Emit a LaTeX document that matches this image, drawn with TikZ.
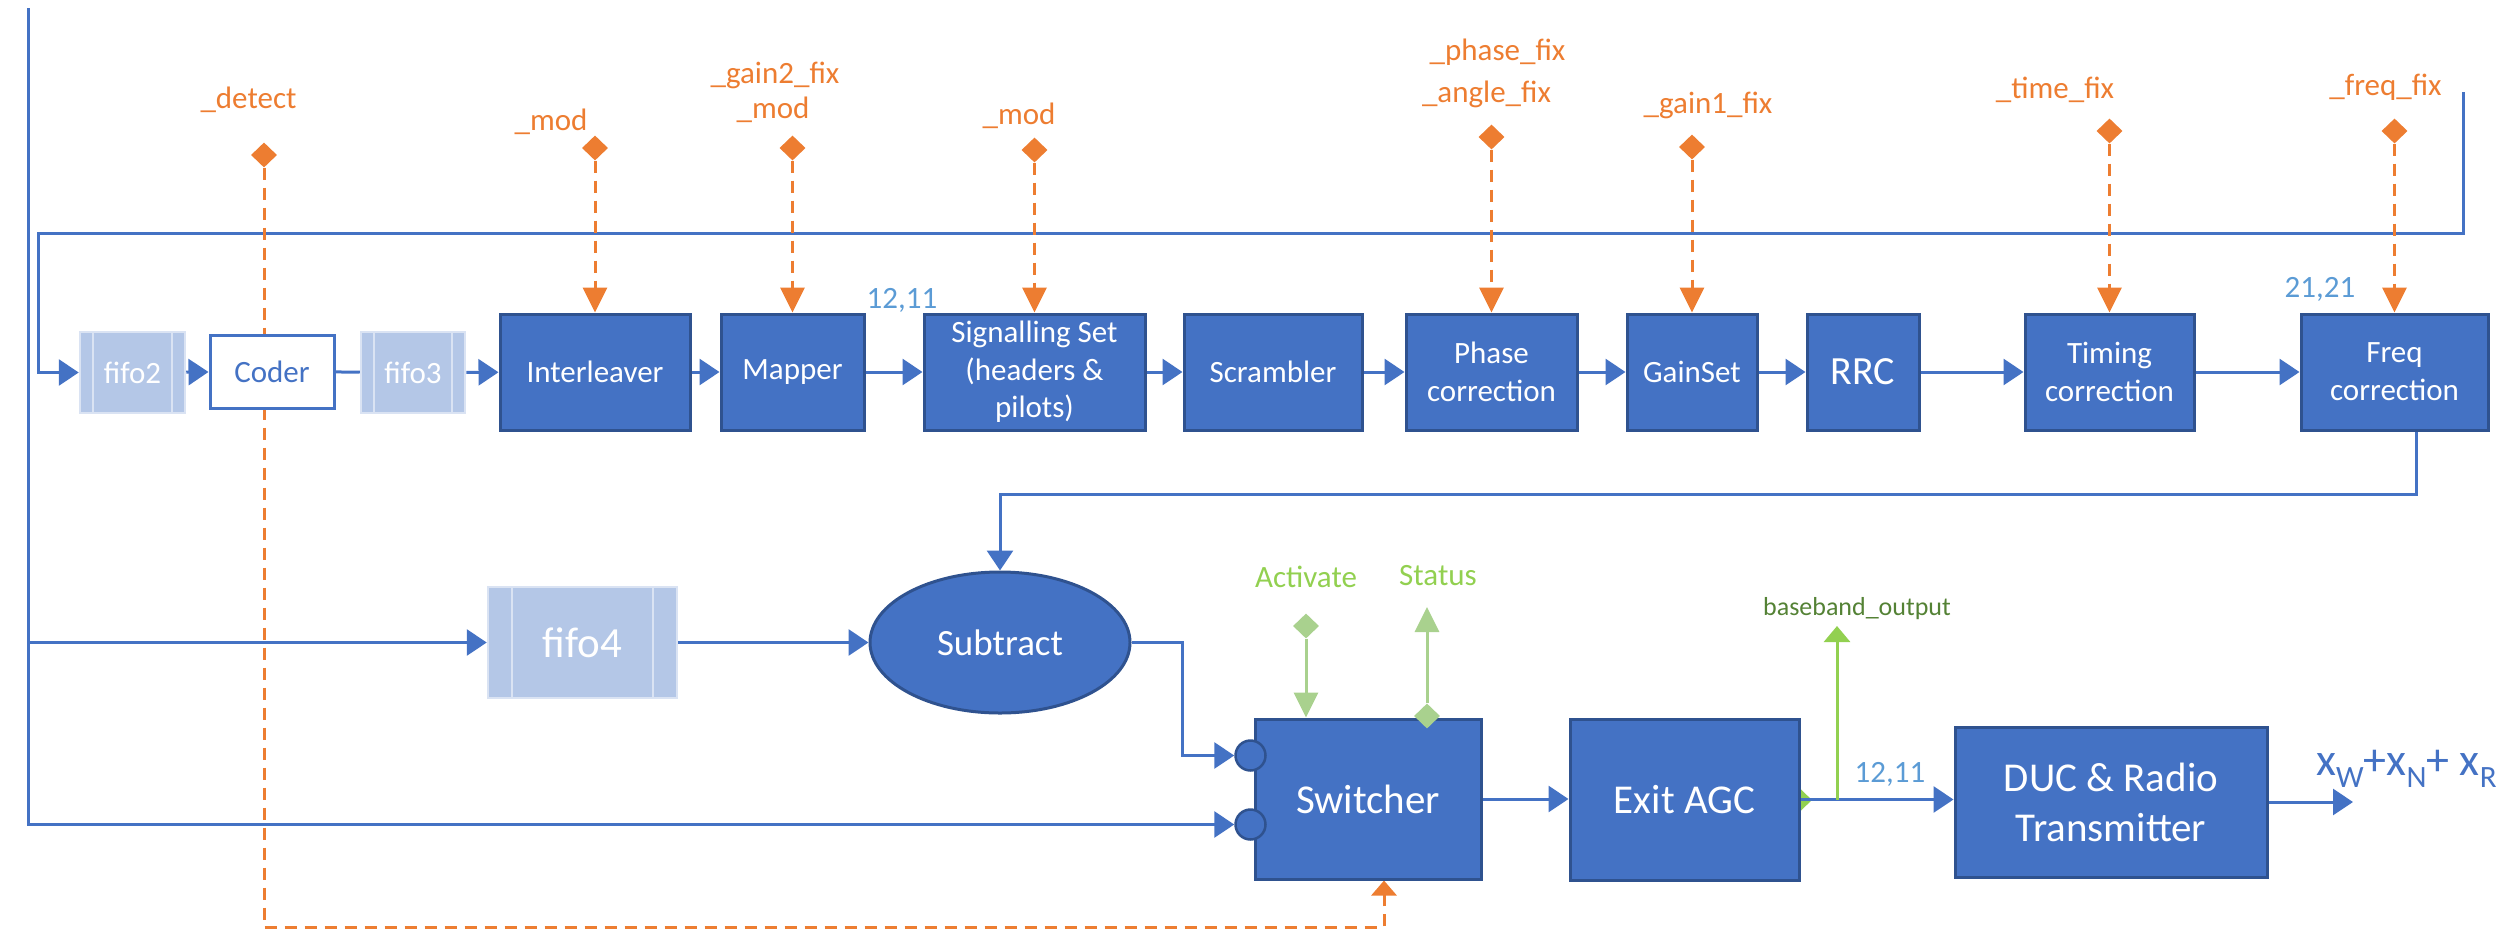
\documentclass[tikz,border=0pt]{standalone}
\usepackage{fontspec}
\setmainfont{Carlito}
\usetikzlibrary{arrows.meta,shapes.geometric,calc}
\pgfdeclarelayer{background}
\pgfsetlayers{background,main}
\definecolor{boxblue}{HTML}{4472C4}
\definecolor{boxedge}{HTML}{2F528F}
\definecolor{orng}{HTML}{ED7D31}
\definecolor{numblue}{HTML}{5B9BD5}
\definecolor{fifofill}{HTML}{B4C7E7}
\definecolor{fifoedge}{HTML}{DAE3F3}
\definecolor{grn}{HTML}{92D050}
\definecolor{lgrn}{HTML}{A9D18E}
\definecolor{dgrn}{HTML}{548235}
\begin{document}
\begin{tikzpicture}[x=1pt,y=-1pt,
  line/.style={draw=boxblue, line width=3pt},
  flow/.style={line, -{Triangle[length=20pt,width=26pt]}},
  ctl/.style={draw=orng, line width=3pt, dash pattern=on 12pt off 8pt, -{Triangle[length=25pt,width=24pt]}},
  blk/.style={draw=boxedge, fill=boxblue, line width=3pt, text=white, inner sep=0pt, align=center,
    minimum height=116pt, font=\fontsize{31}{38}\selectfont},
  bigblk/.style={blk, font=\fontsize{41}{50}\selectfont},
  fifo/.style={draw=fifoedge, fill=fifofill, line width=2.5pt, text=white, inner sep=0pt,
    minimum height=81pt, font=\fontsize{31}{38}\selectfont,
    path picture={
      \draw[fifoedge, line width=2pt]
        ($(path picture bounding box.north west)!0.125!(path picture bounding box.north east)$) --
        ($(path picture bounding box.south west)!0.125!(path picture bounding box.south east)$)
        ($(path picture bounding box.north west)!0.875!(path picture bounding box.north east)$) --
        ($(path picture bounding box.south west)!0.875!(path picture bounding box.south east)$);
    }},
  port/.style={circle, draw=boxedge, fill=boxblue, line width=2.5pt, inner sep=0pt, minimum size=30pt},
  odia/.style={diamond, fill=orng, inner sep=0pt, minimum width=26pt, minimum height=25pt},
  gdia/.style={diamond, fill=lgrn, inner sep=0pt, minimum width=26pt, minimum height=25pt},
  olab/.style={text=orng, inner sep=0pt, anchor=base, font=\fontsize{31}{38}\selectfont},
  nlab/.style={text=numblue, inner sep=0pt, anchor=base, font=\fontsize{31}{38}\selectfont},
  glab/.style={text=grn, inner sep=0pt, anchor=base, font=\fontsize{31}{38}\selectfont},
  garrow/.style={draw=lgrn, line width=3pt, -{Triangle[length=25pt,width=24pt]}}
]
\useasboundingbox (0,0) rectangle (2519,930);

% ---------- upper processing chain ----------
\node[fifo, minimum width=105pt] (f2) at (132.5,372.5) {fifo2};
\node[draw=boxblue, fill=white, line width=3pt, text=boxblue, inner sep=0pt,
      minimum width=124pt, minimum height=73pt, font=\fontsize{31}{38}\selectfont] (cod) at (272,371.5) {Coder};
\node[fifo, minimum width=104pt] (f3) at (413,372.5) {fifo3};
\node[blk, minimum width=190pt] (il) at (595,372) {Interleaver};
\node[blk, minimum width=143pt] (map) at (792.5,372) {Mapper};
\node[blk, minimum width=221pt, font=\fontsize{31}{37.5}\selectfont] (sig) at (1034.5,372) {Signalling Set\\(headers \&\\pilots)};
\node[blk, minimum width=178pt] (scr) at (1273,372) {Scrambler};
\node[blk, minimum width=171pt] (ph) at (1491.5,372) {Phase\\correction};
\node[blk, minimum width=130pt] (gs) at (1692,372) {GainSet};
\node[blk, minimum width=112pt, font=\fontsize{40}{48}\selectfont] (rrc) at (1863,372) {RRC};
\node[blk, minimum width=169pt] (tim) at (2109.5,372) {Timing\\correction};
\node[blk, minimum width=187pt] (frq) at (2394.5,372) {Freq\\correction};

% ---------- control inputs ----------
\node[odia] (d0) at (264,155) {};
\node[odia] (d1) at (595,148) {};
\node[odia] (d2) at (792.5,148) {};
\node[odia] (d3) at (1034.5,150) {};
\node[odia] (d4) at (1491.5,137) {};
\node[odia] (d5) at (1692,147) {};
\node[odia] (d6) at (2109.5,131) {};
\node[odia] (d7) at (2394.5,131) {};

\node[olab] (l0) at (248.5,108) {\_detect};
\node[olab] (l1) at (551,130) {\_mod};
\node[olab] (l2a) at (775,83) {\_gain2\_fix};
\node[olab] (l2b) at (773,118) {\_mod};
\node[olab] (l3) at (1019,124) {\_mod};
\node[olab] (l4a) at (1497.5,60) {\_phase\_fix};
\node[olab] (l4b) at (1486.5,102) {\_angle\_fix};
\node[olab] (l5) at (1708,113) {\_gain1\_fix};
\node[olab] (l6) at (2055,98) {\_time\_fix};
\node[olab] (l7) at (2385.5,95) {\_freq\_fix};

\node[nlab] (n1) at (902,308) {12,11};
\node[nlab] (n2) at (2320,297) {21,21};

% ---------- lower chain ----------
\node[fifo, minimum width=189pt, minimum height=111pt, font=\fontsize{43}{50}\selectfont] (f4) at (582.5,642.5) {fifo4};
\node[ellipse, draw=boxedge, fill=boxblue, line width=3pt, text=white, inner sep=0pt,
      minimum width=260pt, minimum height=141pt, font=\fontsize{37}{44}\selectfont] (sub) at (1000,642.5) {Subtract};
\node[bigblk, minimum width=226pt, minimum height=160pt] (sw) at (1368,799) {Switcher};
\node[port] (p1) at (1250.5,755.5) {};
\node[port] (p2) at (1250.5,824.5) {};
\begin{pgfonlayer}{background}
  \node[diamond, fill=grn, inner sep=0pt, minimum width=26pt, minimum height=25pt] (dbb) at (1799,800) {};
\end{pgfonlayer}
\node[bigblk, minimum width=229pt, minimum height=161pt] (agc) at (1684.5,799.5) {Exit AGC};
\node[bigblk, minimum width=312pt, minimum height=150pt] (duc) at (2111,802) {DUC \& Radio\\Transmitter};

\node[gdia] (da) at (1306,626) {};
\node[gdia] (ds) at (1427,716) {};
\node[glab] (la) at (1306,587) {Activate};
\node[glab] (ls) at (1438,585) {Status};
\node[text=dgrn, inner sep=0pt, anchor=base, font=\fontsize{26}{32}\selectfont] (lbb) at (1857,615) {baseband\_output};
\node[nlab] (n3) at (1890,782) {12,11};

\node[text=boxblue, inner sep=0pt, anchor=base west, font=\fontsize{46}{52}\selectfont] (xo) at (2316,775)
  {x\raisebox{-12pt}{\fontsize{31}{36}\selectfont W}+x\raisebox{-12pt}{\fontsize{31}{36}\selectfont N}+ x\raisebox{-12pt}{\fontsize{31}{36}\selectfont R}};

% ---------- free ends and bends ----------
\coordinate (inbus) at (28,8);
\coordinate (fbtop) at (2463,92);
\coordinate (fbr) at (2463,233);
\coordinate (fbl) at (38,233);
\coordinate (sj) at (2416,494);
\coordinate (sk) at (1182,642.5);
\coordinate (dc) at (1384,927);
\coordinate (st) at (1427,607);
\coordinate (bbtop) at (1837,626);
\coordinate (out) at (2353,802);

\begin{pgfonlayer}{background}
  % signal paths
  \draw[flow] (inbus) |- (p2.west);
  \draw[flow] (inbus |- f4.west) -- (f4.west);
  \draw[flow] (fbtop) -- (fbr) -- (fbl) |- (f2.west);
  \draw[flow] (f2) -- (cod);
  \draw[line] (cod) -- (f3);
  \draw[flow] (f3) -- (il);
  \draw[flow] (il) -- (map);
  \draw[flow] (map) -- (sig);
  \draw[flow] (sig) -- (scr);
  \draw[flow] (scr) -- (ph);
  \draw[flow] (ph) -- (gs);
  \draw[flow] (gs) -- (rrc);
  \draw[flow] (rrc) -- (tim);
  \draw[flow] (tim) -- (frq);
  \draw[flow] (frq.south -| sj) -- (sj) -| (sub.north);
  \draw[flow] (f4.east) -- (sub.west);
  \draw[flow] (sub.east) -- (sk) |- (p1.west);
  \draw[flow] (sw.east) -- (sw.east -| agc.west);
  \draw[flow] (agc.east) -- (agc.east -| duc.west);
  \draw[flow] (duc.east) -- (out);
  % control paths
  \draw[ctl] (d1) -- (il.north);
  \draw[ctl] (d2) -- (map.north);
  \draw[ctl] (d3) -- (sig.north);
  \draw[ctl] (d4) -- (ph.north);
  \draw[ctl] (d5) -- (gs.north);
  \draw[ctl] (d6) -- (tim.north);
  \draw[ctl] (d7) -- (frq.north);
  \draw[ctl, -{Triangle[length=15pt,width=25pt]}] (d0) |- (dc) -- (dc |- sw.south);
  % switcher control and monitor
  \draw[garrow] (da) -- (da |- sw.north);
  \draw[draw=grn, line width=3pt, -{Triangle[length=16pt,width=26pt]}] (agc.east -| bbtop) -- (bbtop);
\end{pgfonlayer}
\draw[garrow] (ds) -- (st);
\end{tikzpicture}
\end{document}
